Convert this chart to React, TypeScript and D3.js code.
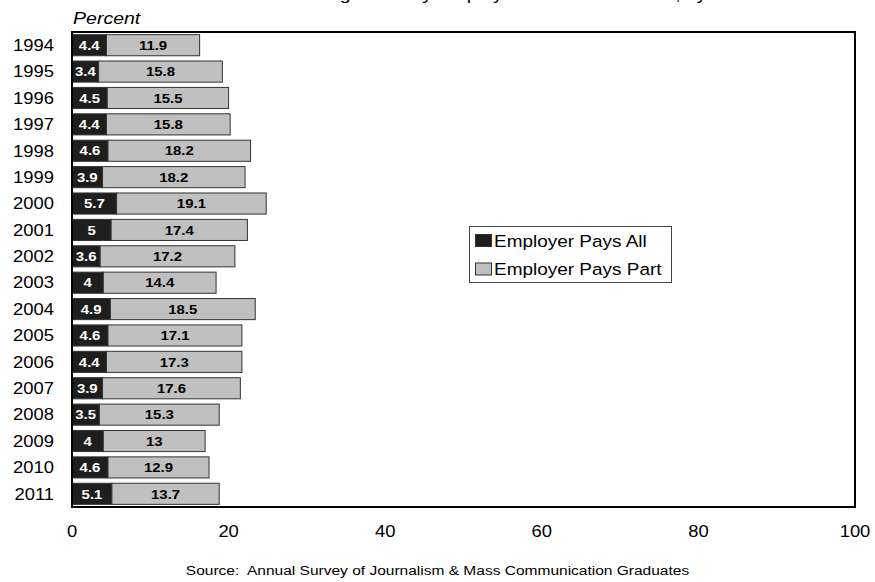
import React from "react";
import * as d3 from "d3";

const years = ["1994","1995","1996","1997","1998","1999","2000","2001","2002","2003","2004","2005","2006","2007","2008","2009","2010","2011"];
const paysAll = [4.4,3.4,4.5,4.4,4.6,3.9,5.7,5,3.6,4,4.9,4.6,4.4,3.9,3.5,4,4.6,5.1];
const paysPart = [11.9,15.8,15.5,15.8,18.2,18.2,19.1,17.4,17.2,14.4,18.5,17.1,17.3,17.6,15.3,13,12.9,13.7];
const xTicks = [0,20,40,60,80,100];
const seriesNames = ["Employer Pays All","Employer Pays Part"];
const titleText = "Health Insurance Coverage Paid by Employer for Full-time Jobs, by Year";
const sourceText = "Source:  Annual Survey of Journalism & Mass Communication Graduates";

const W = 875, H = 582;
const SX = 1.15;
const FONT = "'Liberation Sans', Arial, Helvetica, sans-serif";
const DARK = "#1e1e1e";
const LIGHT = "#c0c0c0";

function T({ x, y, children, size, anchor = "start", weight = "normal", fill = "#000", italic = false }: any) {
  return (
    <text
      transform={`translate(${x},${y}) scale(${SX},1)`}
      fontSize={size}
      fontFamily={FONT}
      textAnchor={anchor}
      fontWeight={weight}
      fontStyle={italic ? "italic" : "normal"}
      fill={fill}
      style={{ whiteSpace: "pre" }}
    >
      {children}
    </text>
  );
}

export default function App() {
  const left = 72, right = 855, top = 32, bottom = 507;
  const x = d3.scaleLinear().domain([0, 100]).range([left, right]);
  const y = d3.scaleBand<string>().domain(years).range([top, bottom]).paddingInner(0.2).paddingOuter(0.1);
  const bh = y.bandwidth();

  return (
    <svg width={W} height={H} style={{ position: "absolute", left: 0, top: 0, background: "#fff" }}>
      <T x={W / 2} y={-0.5} size={17} anchor="middle">{titleText}</T>
      <T x={73} y={24} size={17} italic>Percent</T>

      {years.map((yr, i) => {
        const y0 = y(yr)!;
        const cy = y0 + bh / 2;
        const a = paysAll[i], p = paysPart[i];
        return (
          <g key={yr}>
            <rect x={x(0)} y={y0} width={x(a) - x(0)} height={bh} fill={DARK} stroke="#333" strokeWidth={1} />
            <rect x={x(a)} y={y0} width={x(a + p) - x(a)} height={bh} fill={LIGHT} stroke="#333" strokeWidth={1} />
            <T x={(x(0) + x(a)) / 2} y={cy + 4.7} size={13} weight="bold" anchor="middle" fill="#fff">{String(a)}</T>
            <T x={(x(a) + x(a + p)) / 2} y={cy + 4.7} size={13} weight="bold" anchor="middle">{String(p)}</T>
            <T x={54} y={cy + 5.8} size={16} anchor="end">{yr}</T>
          </g>
        );
      })}

      <rect x={left} y={top} width={right - left} height={bottom - top} fill="none" stroke="#000" strokeWidth={2} />

      {xTicks.map((t) => (
        <T key={t} x={x(t)} y={537} size={16} anchor="middle">{String(t)}</T>
      ))}

      <g>
        <rect x={469.5} y={226.5} width={202} height={56} fill="#fff" stroke="#444" strokeWidth={1} />
        {seriesNames.map((n, i) => (
          <g key={n}>
            <rect x={475.5} y={234.5 + i * 28.5} width={16} height={12} fill={i === 0 ? DARK : LIGHT} stroke="#333" strokeWidth={1} />
            <T x={494} y={246.5 + i * 28.5} size={16.5}>{n}</T>
          </g>
        ))}
      </g>

      <T x={W / 2} y={575} size={13.5} anchor="middle">{sourceText}</T>
    </svg>
  );
}
